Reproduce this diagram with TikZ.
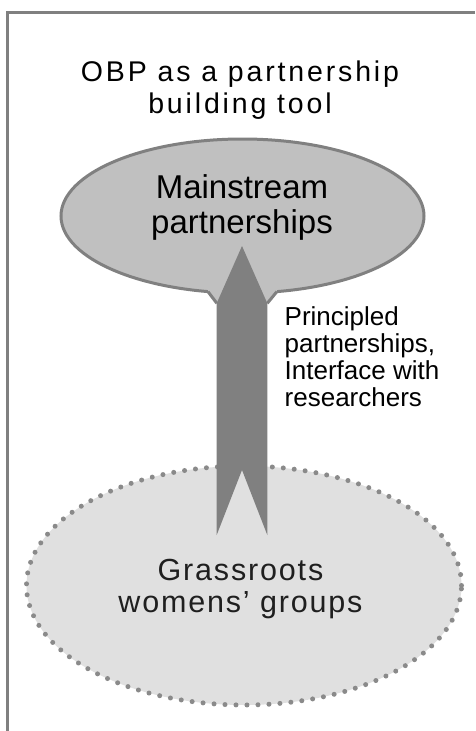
\documentclass[tikz,border=0pt]{standalone}
\usepackage{fontspec}
\setmainfont{Liberation Sans}
\newfontfamily\trackfont[LetterSpace=10]{Liberation Sans}
\newfontfamily\looserfont[LetterSpace=6]{Liberation Sans}
\usetikzlibrary{shapes.geometric}
\definecolor{Frame}{HTML}{808080}
\definecolor{Upper}{HTML}{C0C0C0}
\definecolor{Lower}{HTML}{E0E0E0}
\definecolor{Dots}{HTML}{8A8A8A}

\begin{document}
\begin{tikzpicture}[x=1pt,y=-1pt,
blob/.style={ellipse,inner sep=0pt},
upperblob/.style={blob,fill=Upper,draw=Frame,line width=3pt,minimum width=363pt,minimum height=154pt},
lowerblob/.style={blob,fill=Lower,draw=Dots,line width=5pt,line cap=round,dash pattern=on 0pt off 11pt,minimum width=435pt,minimum height=239pt},
edge/.style={draw=Frame,line width=3pt},
words/.style={inner sep=0pt,align=center,text=black}]
\useasboundingbox (0,0) rectangle (475,731);
\draw[edge] (475,12.5) -- (7,12.5) -- (7,731);
% two groups
\node[lowerblob](grass) at (244,585.5){};
\node[upperblob](main) at (242.5,216){};
% neck under the upper blob
\fill[Upper] (208,291.6) -- (216.8,303.3) -- (267.3,303.3) -- (276.9,291.6) -- (276.9,287) -- (208,287) -- cycle;
\draw[edge] (208,291.6) -- (216.8,303.3) (267.3,303.3) -- (276.9,291.6);
% the arrow
\coordinate (tip) at (242,246);\coordinate (notch) at (242,470);
\fill[Frame] (tip) -- ++(25.3,57.3) -- ++(0,231.7) -- (notch) -- ++(-25.3,65) -- ++(0,-231.7) -- cycle;
% texts
\node[words,font=\trackfont\fontsize{28.5}{31.6}\selectfont](title) at (240,90.1){OBP as a partnership\\building tool};
\node[words,font=\fontsize{33}{35}\selectfont](maintext) at (242,207.2){Mainstream\\partnerships};
\node[words,align=left,anchor=west,font=\fontsize{26}{27}\selectfont](side) at (284.5,356.9){Principled\\partnerships,\\Interface with\\researchers};
\node[words,text=black!88,font=\looserfont\fontsize{30.5}{32}\selectfont](grasstext) at (240.5,589.3){Grassroots\\womens’ groups};
\end{tikzpicture}
\end{document}
